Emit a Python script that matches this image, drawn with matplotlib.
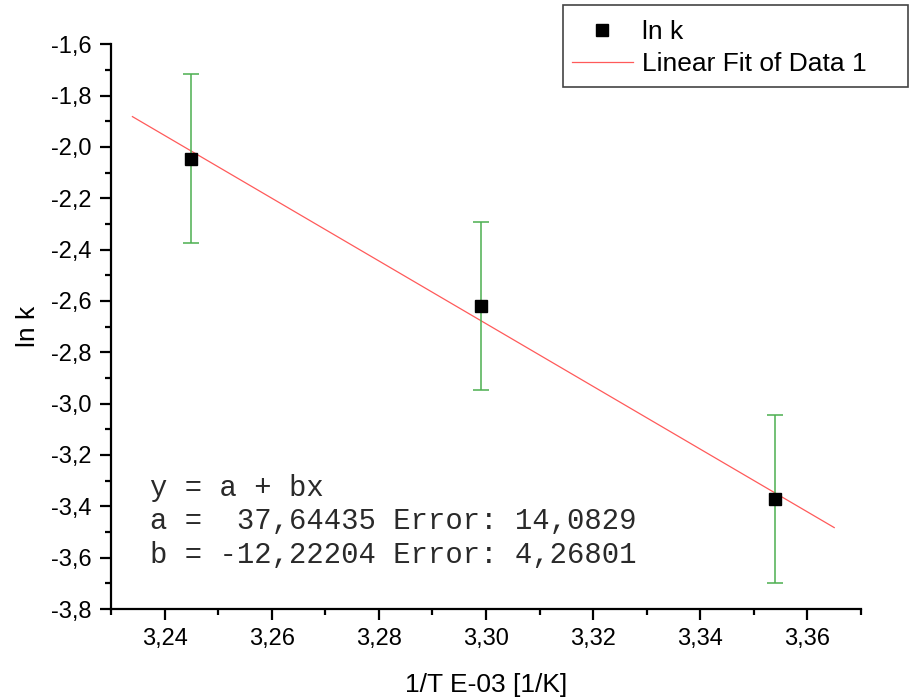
import matplotlib
matplotlib.use("Agg")
import matplotlib.pyplot as plt
from matplotlib.ticker import MultipleLocator, FuncFormatter
from matplotlib.lines import Line2D
from matplotlib.patches import Rectangle
import numpy as np

plt.rcParams['font.family'] = ['Liberation Sans', 'DejaVu Sans']

# Measurements: inverse temperature (1e-3 / K) and ln k with uncertainty
inv_T = [3.245, 3.299, 3.354]
ln_k = [-2.045, -2.620, -3.372]
ln_k_err = [0.328, 0.327, 0.327]

# Linear fit parameters
fit_a = 37.64435
fit_a_err = 14.0829
fit_b = -12.22204
fit_b_err = 4.26801
fit_x_range = [3.234, 3.365]


def comma(v, _pos):
    return f"{v:.2f}".replace('.', ',')


def comma1(v, _pos):
    return f"{v:.1f}".replace('.', ',')


W, H = 909, 699
fig = plt.figure(figsize=(W / 100, H / 100), dpi=100)
ax = fig.add_axes([111 / W, 1 - 609 / H, 750 / W, (609 - 44.3) / H])

fx = np.array(fit_x_range)
ax.plot(fx, fit_a + fit_b * fx, color='#ff5a5a', lw=0.9, zorder=2)

ax.errorbar(inv_T, ln_k, yerr=ln_k_err, fmt='none', ecolor='#4caf50',
            elinewidth=1.1, capsize=5.5, capthick=1.1, zorder=3)
ax.plot(inv_T, ln_k, 's', color='black', ms=8.5, zorder=4)

ax.set_xlim(3.23, 3.37)
ax.set_ylim(-3.8, -1.6)
ax.xaxis.set_major_locator(MultipleLocator(0.02))
ax.xaxis.set_minor_locator(MultipleLocator(0.01))
ax.yaxis.set_major_locator(MultipleLocator(0.2))
ax.yaxis.set_minor_locator(MultipleLocator(0.1))
ax.xaxis.set_major_formatter(FuncFormatter(comma))
ax.yaxis.set_major_formatter(FuncFormatter(comma1))

for s in ('top', 'right'):
    ax.spines[s].set_visible(False)
for s in ('left', 'bottom'):
    ax.spines[s].set_linewidth(1.6)

ax.tick_params(which='major', direction='out', length=8, width=1.6,
               labelsize=17, pad=6)
ax.tick_params(which='minor', direction='out', length=4.3, width=1.6)

ax.set_xlabel('1/T E-03 [1/K]', fontsize=19, labelpad=16)
ax.set_ylabel('ln k', fontsize=19, labelpad=8)

eq = (f"y = a + bx\n"
      f"a =  {fit_a:.5f} Error: {fit_a_err:.4f}\n"
      f"b = {fit_b:.5f} Error: {fit_b_err:.5f}").replace('.', ',')
ax.text(3.2373, -3.459, eq, family='Liberation Mono', fontsize=20.8,
        color='#2a2a2a', va='center', ha='left', linespacing=1.27)

# Legend box drawn separately so its padding can be set freely
fig.patches.append(Rectangle((563 / W, 1 - 87 / H), 345 / W, 82 / H,
                             transform=fig.transFigure, fill=True,
                             facecolor='white', edgecolor='#444444',
                             lw=1.2, zorder=5))

handles = [
    Line2D([], [], ls='none', marker='s', color='black', ms=8.5),
    Line2D([], [], color='#ff5a5a', lw=0.9),
]
leg = fig.legend(handles, ['ln k', 'Linear Fit of Data 1'],
                 loc='upper left', bbox_to_anchor=(572 / W, 1 - 20 / H),
                 borderaxespad=0, borderpad=0, fontsize=19, frameon=False,
                 handlelength=2.3, handletextpad=0.35, labelspacing=0.3)
leg.set_zorder(6)

fig.savefig('out.png', dpi=100)
